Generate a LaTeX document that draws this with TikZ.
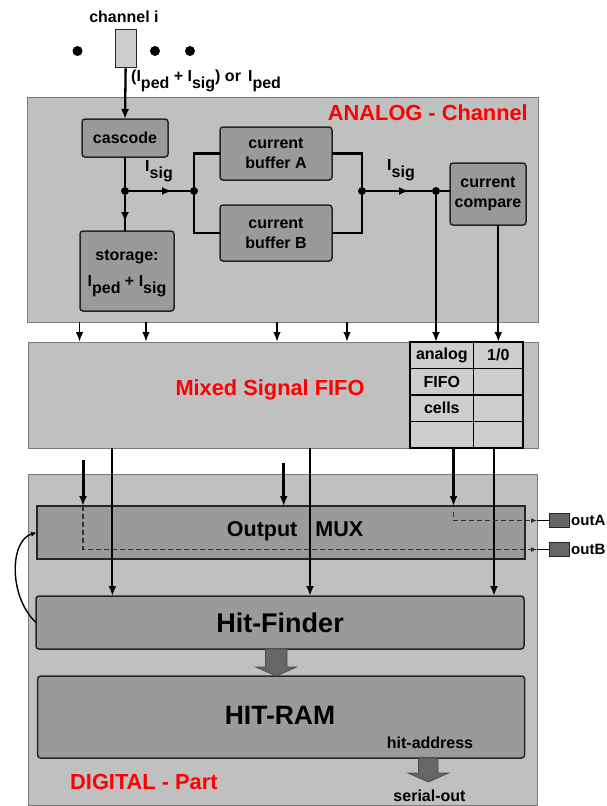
\documentclass[tikz,border=0pt]{standalone}
\usepackage{fontspec}
\setmainfont{Liberation Sans}
\usetikzlibrary{arrows.meta}
\definecolor{outerfill}{HTML}{C0C0C0}
\definecolor{outerdraw}{HTML}{7A7A7A}
\definecolor{innerfill}{HTML}{9A9A9A}
\definecolor{cellfill}{HTML}{CDCDCD}
\definecolor{darkfill}{HTML}{666666}
\definecolor{labred}{HTML}{FF0000}
\newcommand{\lsub}[1]{\raisebox{-0.42em}{#1}}
\begin{document}
\begin{tikzpicture}[x=1pt,y=-1pt,
  outerbox/.style={draw=outerdraw, line width=1pt, fill=outerfill, inner sep=0, outer sep=0, anchor=north west},
  innerbox/.style={draw=black!85, line width=1.5pt, fill=innerfill, rounded corners=3pt, inner sep=0, outer sep=0, anchor=north west, align=center, font=\bfseries\fontsize{16}{20}\selectfont},
  cellbox/.style={draw=black, line width=1.6pt, fill=cellfill, inner sep=0, outer sep=0, anchor=north west, minimum height=26.5pt, font=\bfseries\fontsize{16}{18}\selectfont},
  txt/.style={inner sep=0, font=\bfseries\fontsize{16}{20}\selectfont},
  redtxt/.style={inner sep=0, text=labred, font=\bfseries\fontsize{21.8}{26}\selectfont},
  ln/.style={line width=2.3pt, black},
  thinln/.style={line width=2.1pt, black},
  thickln/.style={line width=3pt, black},
  arr/.style={-{Latex[length=10pt,width=8pt]}},
  arrs/.style={-{Latex[length=6pt,width=5pt]}},
  dsh/.style={line width=1.1pt, black!80, dash pattern=on 5pt off 3pt},
  fat/.style={fill=darkfill, draw=black!70, line width=0.8pt},
  dot/.style={circle, fill=black, inner sep=0, minimum size=8pt}
]
\useasboundingbox (0,0) rectangle (607,806);

% outer blocks
\node[outerbox, minimum width=511pt, minimum height=225pt] (analogbox) at (27,97) {};
\node[outerbox, minimum width=510pt, minimum height=106pt] (fifobox) at (28,342) {};
\node[outerbox, minimum width=509pt, minimum height=331pt] (digitalbox) at (28,474) {};

% top
\node[txt] (chantxt) at (124,17) {channel i};
\node[draw=black!85, line width=1.3pt, fill=outerfill!80!white, minimum width=21pt, minimum height=38pt, inner sep=0, anchor=north west] (chanbox) at (114.5,29) {};
\node[dot, minimum size=10pt] (dotA) at (77.5,51) {};
\node[dot, minimum size=10pt] (dotB) at (155,51) {};
\node[dot, minimum size=10pt] (dotC) at (190,51) {};
\node[txt, anchor=west] (chanlbl) at (131,81) {(I\lsub{ped} + I\lsub{sig}) or\, I\lsub{ped}};

\node[redtxt, anchor=east] (analogtitle) at (528,113) {ANALOG - Channel};

% analog blocks
\node[innerbox, minimum width=86pt, minimum height=38pt] (cascode) at (82,119) {cascode};
\node[innerbox, minimum width=112pt, minimum height=53pt] (bufA) at (220,127) {current\\buffer A};
\node[innerbox, minimum width=112pt, minimum height=56pt] (bufB) at (220,205) {current\\buffer B};
\node[innerbox, minimum width=94pt, minimum height=80pt] (storage) at (80,231) {};
\node[txt] (stortxt1) at (127,257) {storage:};
\node[txt] (stortxt2) at (127,286) {I\lsub{ped} + I\lsub{sig}};
\node[innerbox, minimum width=76pt, minimum height=62pt] (compare) at (450,163) {current\\compare};

\node[dot] (d1) at (125,191) {};
\node[dot] (d2) at (194,191) {};
\node[dot] (d3) at (362,191) {};
\node[dot] (d4) at (436,191) {};
\coordinate (m1) at (172,191);
\coordinate (m2) at (125,222);
\coordinate (m3) at (409,191);
\node[txt] (isig1) at (159,171) {I\lsub{sig}};
\node[txt] (isig2) at (401,170) {I\lsub{sig}};

% FIFO
\node[redtxt] (fifotitle) at (270,390) {Mixed Signal FIFO};
\node[cellbox, minimum width=63.6pt] (cA1) at (410,342) {analog};
\node[cellbox, minimum width=49.4pt] (cB1) at (473.6,342) {1/0};
\node[cellbox, minimum width=63.6pt] (cA2) at (410,368.5) {FIFO};
\node[cellbox, minimum width=49.4pt] (cB2) at (473.6,368.5) {};
\node[cellbox, minimum width=63.6pt] (cA3) at (410,395) {cells};
\node[cellbox, minimum width=49.4pt] (cB3) at (473.6,395) {};
\node[cellbox, minimum width=63.6pt] (cA4) at (410,421.5) {};
\node[cellbox, minimum width=49.4pt] (cB4) at (473.6,421.5) {};

% digital blocks
\node[innerbox, rounded corners=0pt, minimum width=488pt, minimum height=53pt] (mux) at (37,506) {};
\node[txt, font=\bfseries\fontsize{21.5}{24}\selectfont] (muxtxt) at (295,531) {Output\hspace{18pt}MUX};
\node[innerbox, minimum width=488pt, minimum height=53pt, font=\bfseries\fontsize{27}{30}\selectfont] (hitfinder) at (36,596) {Hit-Finder};
\node[innerbox, minimum width=487pt, minimum height=82pt] (hitram) at (37.6,676) {};
\node[txt, font=\bfseries\fontsize{26.5}{30}\selectfont] (hitramtxt) at (280,715) {HIT-RAM};
\node[txt] (hitaddr) at (430,743) {hit-address};
\node[txt] (serout) at (429.5,796) {serial-out};
\node[redtxt, anchor=west] (digtitle) at (70,782) {DIGITAL - Part};

\node[draw=black!85, line width=1pt, fill=darkfill, minimum width=20.5pt, minimum height=14pt, inner sep=0, anchor=north west] (outA) at (548.5,513) {};
\node[draw=black!85, line width=1pt, fill=darkfill, minimum width=20.5pt, minimum height=14pt, inner sep=0, anchor=north west] (outB) at (548.5,542) {};
\node[txt, anchor=west, font=\bfseries\fontsize{15}{18}\selectfont] (outAtxt) at (571,520) {outA};
\node[txt, anchor=west, font=\bfseries\fontsize{15}{18}\selectfont] (outBtxt) at (571,549) {outB};

% analog connectors
\draw[ln, arr] (chanbox.south) -- (cascode.north);
\draw[ln] (cascode.south) -- (d1);
\draw[ln] (d1) -- (d2);
\draw[ln, arr] (d1) -- (m1);
\draw[ln] (d1) -- (storage.north -| d1);
\draw[ln, arr] (d1) -- (m2);
\draw[ln] (d2) |- (bufA.west);
\draw[ln] (d2) |- (bufB.west);
\draw[ln] (bufA.east) -| (d3);
\draw[ln] (bufB.east) -| (d3);
\draw[ln] (d3) -- (d4);
\draw[ln, arr] (d3) -- (m3);
\draw[ln] (d4) -- (d4 -| compare.west);
\draw[ln, arr] (d4) -- (d4 |- cA1.north);
\draw[ln, arr] (compare.south -| cB1.north) -- (cB1.north);

% analog -> FIFO arrows
\foreach \xx in {79.5,146,277,347} {
  \draw[line width=1.6pt, -{Latex[length=10pt,width=7.5pt]}] (analogbox.south -| \xx,0) -- (fifobox.north -| \xx,0);
}

% FIFO -> digital
\coordinate (s1) at (83,460);
\coordinate (s2) at (283.7,463);
\draw[thickln, arr] (s1) -- (mux.north -| s1);
\draw[thickln, arr] (s2) -- (mux.north -| s2);
\draw[thickln, arr] (fifobox.south -| 453.5,0) -- (mux.north -| 453.5,0);
\foreach \xx in {112.4,310,494} {
  \draw[thinln, arr] (fifobox.south -| \xx,0) -- (hitfinder.north -| \xx,0);
}

% dashed output paths
\coordinate (qa) at (453.5,512);
\coordinate (eA) at (digitalbox.east |- outA.west);
\coordinate (eB) at (digitalbox.east |- outB.west);
\draw[dsh, arrs] (qa) |- (eA);
\draw[line width=1.1pt] (eA) -- (outA.west);
\draw[dsh, arrs] (mux.north -| s1) |- (eB);
\draw[line width=1.1pt] (eB) -- (outB.west);

% feedback curve
\draw[line width=1.4pt, arrs] (hitfinder.west) .. controls (8,596) and (10,540) .. (mux.west);

% fat arrows
\path[fat] (265.5,649) -- (287,649) -- (287,667) -- (296.5,667) -- (276.25,676) -- (256,667) -- (265.5,667) -- cycle;
\path[fat] (418.6,758) -- (438,758) -- (438,773) -- (448.4,773) -- (428.3,782) -- (408,773) -- (418.6,773) -- cycle;
\end{tikzpicture}
\end{document}
